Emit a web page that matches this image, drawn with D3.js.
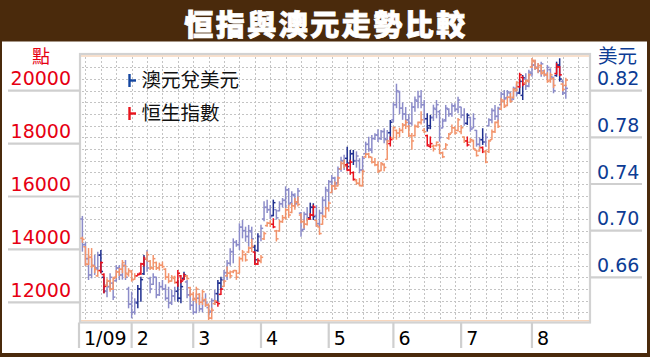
<!DOCTYPE html>
<html><head><meta charset="utf-8">
<script src="https://cdn.jsdelivr.net/npm/d3@7"></script>
<style>body{margin:0;background:#fff}svg{display:block}</style>
</head><body><svg id="c" width="650" height="357"></svg>
<script>
const title = "恒指與澳元走勢比較";
const leftUnit = "點", rightUnit = "美元";
const legendNames = ["澳元兌美元", "恒生指數"];
const hsiTicks = [12000, 14000, 16000, 18000, 20000];
const audTicks = [0.66, 0.70, 0.74, 0.78, 0.82];
const monthLabels = ["1/09", "2", "3", "4", "5", "6", "7", "8"];
const monthStarts = ["2009-01-01", "2009-02-02", "2009-03-02", "2009-04-01", "2009-05-01", "2009-06-01", "2009-07-01", "2009-08-03"];
const firstDay = "2009-01-09", lastDay = "2009-08-18";
const highlightDays = ["2009-01-19","2009-01-20","2009-02-04","2009-02-05","2009-02-06","2009-02-23","2009-02-24","2009-02-25","2009-03-12","2009-03-13","2009-03-30","2009-03-31","2009-04-07","2009-04-23","2009-04-24","2009-05-11","2009-05-12","2009-05-13","2009-05-29","2009-06-16","2009-06-17","2009-07-03","2009-07-10","2009-07-28","2009-07-29","2009-08-13","2009-08-14"];

// AUD/USD daily [open, high, low, close]
const aud = [
[.7100,.7126,.6820,.6880],[.6880,.6900,.6700,.6760],[.6760,.6791,.6577,.6620],[.6620,.6763,.6591,.6700],[.6700,.6791,.6620,.6680],[.6680,.6820,.6660,.6790],
[.6790,.6834,.6634,.6650],[.6600,.6605,.6463,.6480],[.6480,.6560,.6430,.6520],[.6520,.6634,.6491,.6600],[.6550,.6562,.6405,.6430],
[.6570,.6705,.6562,.6680],[.6680,.6705,.6577,.6620],[.6620,.6720,.6580,.6700],[.6700,.6748,.6577,.6600],[.6500,.6519,.6334,.6370],
[.6370,.6477,.6248,.6300],[.6300,.6420,.6280,.6390],[.6380,.6534,.6334,.6500],[.6500,.6605,.6391,.6580],[.6630,.6791,.6620,.6760],
[.6760,.6834,.6648,.6680],[.6590,.6605,.6463,.6500],[.6540,.6634,.6534,.6600],[.6600,.6605,.6420,.6450],[.6450,.6560,.6440,.6520],
[.6520,.6577,.6491,.6500],[.6500,.6540,.6400,.6420],[.6420,.6519,.6334,.6380],[.6380,.6491,.6362,.6440],[.6440,.6520,.6400,.6480],
[.6480,.6577,.6391,.6420],[.6420,.6577,.6377,.6520],[.6590,.6648,.6577,.6620],[.6560,.6577,.6420,.6450],[.6450,.6491,.6320,.6360],
[.6360,.6420,.6280,.6300],[.6300,.6463,.6291,.6420],[.6420,.6463,.6305,.6330],[.6330,.6430,.6300,.6400],[.6400,.6463,.6348,.6380],
[.6340,.6362,.6262,.6300],[.6310,.6420,.6300,.6400],[.6400,.6491,.6362,.6460],[.6460,.6577,.6391,.6550],[.6550,.6605,.6491,.6580],
[.6580,.6663,.6548,.6640],[.6640,.6748,.6577,.6720],[.6720,.6850,.6700,.6820],[.6820,.6934,.6720,.6900],[.6900,.6920,.6862,.6880],
[.6880,.7063,.6834,.7030],[.7030,.7091,.6934,.7000],[.7000,.7034,.6905,.6950],[.6950,.7049,.6862,.7000],[.6990,.7034,.6849,.6930],
[.6860,.6880,.6720,.6750],[.6830,.6977,.6820,.6950],[.6950,.7051,.6909,.7020],[.7100,.7252,.7080,.7200],[.7200,.7266,.7151,.7180],
[.7180,.7220,.7100,.7120],[.7130,.7266,.7123,.7240],[.7180,.7180,.7094,.7110],[.7170,.7252,.7166,.7230],[.7230,.7280,.7200,.7260],
[.7260,.7380,.7194,.7350],[.7350,.7366,.7209,.7230],[.7240,.7338,.7223,.7310],[.7300,.7320,.7200,.7230],[.7240,.7366,.7237,.7340],
[.7150,.7160,.6948,.7000],[.7010,.7163,.7006,.7140],[.7140,.7200,.7080,.7110],[.7110,.7240,.7100,.7200],[.7200,.7235,.7091,.7120],
[.7130,.7220,.7034,.7060],[.7060,.7180,.7030,.7150],[.7150,.7291,.7120,.7260],[.7260,.7377,.7177,.7350],[.7340,.7434,.7248,.7420],
[.7420,.7477,.7320,.7450],[.7450,.7463,.7377,.7400],[.7410,.7549,.7406,.7530],[.7530,.7634,.7506,.7600],[.7600,.7650,.7520,.7560],
[.7620,.7720,.7520,.7550],[.7580,.7692,.7578,.7660],[.7660,.7692,.7563,.7600],[.7600,.7680,.7540,.7640],[.7600,.7621,.7492,.7520],
[.7520,.7640,.7500,.7620],[.7660,.7763,.7649,.7740],[.7740,.7806,.7677,.7700],[.7690,.7820,.7663,.7790],[.7790,.7835,.7778,.7820],
[.7820,.7870,.7760,.7790],[.7790,.7863,.7778,.7850],[.7850,.7878,.7749,.7790],[.7780,.7863,.7735,.7840],[.7840,.7949,.7778,.7930],
[.7950,.8100,.7930,.8080],[.8080,.8260,.8050,.8200],[.8190,.8200,.8000,.8050],[.8050,.8100,.7950,.8000],[.8000,.8060,.7900,.7950],
[.7950,.8000,.7870,.7920],[.7920,.8100,.7900,.8060],[.8060,.8150,.8020,.8120],[.8110,.8200,.8050,.8150],[.8150,.8206,.8049,.8080],
[.8080,.8120,.7921,.7960],[.7960,.8007,.7849,.7880],[.7900,.7992,.7870,.7970],[.7970,.8080,.7940,.8050],[.8040,.8120,.7963,.8080],
[.8020,.8035,.7763,.7800],[.7880,.7963,.7878,.7940],[.7950,.8078,.7934,.8050],[.8040,.8049,.7977,.8000],[.8000,.8092,.7977,.8070],
[.8070,.8092,.8020,.8040],[.8040,.8149,.8007,.8120],[.8060,.8063,.7963,.7990],[.7990,.8050,.7900,.7920],[.7920,.8007,.7906,.7990],
[.7970,.7977,.7849,.7870],[.7880,.8007,.7878,.7960],[.7860,.7863,.7720,.7740],[.7740,.7800,.7700,.7780],[.7780,.7878,.7735,.7760],
[.7760,.7835,.7720,.7800],[.7900,.7963,.7892,.7950],[.7950,.8049,.7921,.8030],[.8030,.8078,.7949,.7980],[.7980,.8063,.7934,.8050],
[.8080,.8192,.8077,.8170],[.8170,.8206,.8106,.8130],[.8140,.8206,.8135,.8190],[.8180,.8192,.8106,.8120],[.8130,.8235,.8120,.8220],
[.8220,.8260,.8150,.8180],[.8180,.8300,.8170,.8280],[.8160,.8335,.8120,.8310],[.8300,.8349,.8206,.8240],[.8240,.8380,.8230,.8360],
[.8350,.8435,.8320,.8420],[.8420,.8464,.8378,.8400],[.8400,.8435,.8350,.8370],[.8370,.8449,.8320,.8430],[.8370,.8378,.8321,.8340],
[.8340,.8421,.8292,.8400],[.8380,.8392,.8292,.8320],[.8310,.8320,.8178,.8200],[.8330,.8449,.8320,.8420],[.8420,.8478,.8278,.8300],
[.8280,.8292,.8163,.8180],[.8180,.8250,.8130,.8220]
];

// Hang Seng Index daily [open, high, low, close]
const hsi = [
[14420,14480,14250,14380],[14100,14110,13380,13450],[13430,14050,13410,13700],[13700,14050,13290,13400],[13370,13380,13100,13240],[13000,13220,12970,13200],
[13200,13540,13100,13500],[13050,13100,12340,12600],[12650,12910,12590,12800],[12800,12850,12400,12500],[12500,12970,12470,12900],
[12950,13220,12910,13150],[13150,13300,13000,13250],[13250,13600,13100,13500],[13400,13410,12910,13100],[13050,13290,12970,13200],
[13150,13220,12780,12850],[12870,13100,12850,13000],[13000,13100,13000,13050],[13100,13500,13030,13450],[13450,13730,13350,13650],
[13650,13920,13540,13800],[13550,13600,13220,13300],[13300,13790,13220,13650],[13500,13540,13220,13300],[13300,13500,13200,13400],
[13400,13540,13290,13350],[13250,13290,12850,12950],[12950,13100,12720,12800],[12800,13030,12780,12950],[12900,13000,12700,12750],
[12750,13220,12590,13100],[13000,13030,12720,12800],[12850,13100,12850,13000],[13000,13030,12850,12900],[12550,12590,12210,12300],
[12300,12400,12050,12150],[12100,12590,11960,12500],[12300,12340,11900,12000],[12000,12470,11900,12400],[12100,12150,11830,11900],
[11900,11960,11330,11400],[11400,11800,11350,11700],[11950,12090,11900,12050],[12000,12020,11830,11950],[12300,12530,12280,12500],
[12600,12850,12590,12800],[13000,13350,12970,13100],[13100,13200,12900,13000],[13150,13220,13100,13200],[13200,13220,12850,12950],
[13100,13730,13100,13650],[13650,13980,13540,13900],[13800,13860,13540,13600],[13900,14110,13860,14050],[14050,14400,13900,14120],
[13900,13920,13410,13450],[13450,13670,13410,13580],[13550,13790,13480,13700],[14400,14670,14360,14600],[14900,15050,14860,14990],
[14990,15100,14850,14950],[14950,15180,14800,14850],[14700,14740,14300,14400],[14700,15120,14670,15050],[15050,15300,15000,15200],
[15200,15560,15120,15500],[15500,15690,15190,15300],[15400,15750,15370,15650],[15650,15940,15500,15800],[15800,16000,15620,15700],
[15300,15370,14990,15050],[15050,15120,14800,14950],[14950,15200,14900,15150],[15150,15370,15120,15300],[15300,15690,15240,15600],
[15100,15120,14860,14900],[14850,14860,14550,14600],[14950,15310,14930,15250],[15250,15620,15180,15550],[15550,15810,15430,15750],
[16150,16440,16130,16400],[16400,16570,16250,16300],[16400,16760,16380,16700],[17050,17330,17010,17250],[17250,17390,17070,17150],
[17200,17260,16950,17000],[17000,17390,16820,17300],[16900,16950,16600,16650],[16600,16660,16440,16500],[16500,16700,16380,16420],
[16400,17010,16380,16950],[17500,17640,17460,17600],[17600,17650,17450,17500],[17480,17500,17250,17300],[17300,17460,17140,17200],
[17200,17330,16890,16950],[16980,17300,16950,17250],[17200,17260,16950,17100],[17400,18150,17390,18100],[18000,18270,17890,18150],
[18200,18650,18150,18600],[18500,18530,18150,18400],[18400,18600,18250,18500],[18500,18780,18400,18700],[18700,18900,18550,18800],
[18650,18700,18250,18300],[18300,18400,17770,18100],[18300,18720,18270,18650],[18650,18840,18590,18800],[18800,19220,18720,18900],
[18500,18590,18400,18450],[18300,18340,17890,17950],[17900,18270,17830,18000],[17900,17960,17700,17800],[17920,18080,17890,18050],
[17950,18000,17600,17650],[17650,17700,17450,17500],[17800,18020,17770,17950],[18200,18400,18150,18350],[18400,18720,18400,18600],
[18600,18650,18340,18400],[18500,18970,18460,18900],[18450,18700,18350,18600],[18250,18270,18020,18100],[18100,18270,17890,17950],
[18050,18210,18020,18150],[18100,18150,17770,17800],[17750,17770,17510,17550],[17720,17890,17700,17850],[17850,17890,17640,17700],
[17700,17770,17260,17300],[17700,18150,17640,18100],[18150,18530,18150,18450],[18450,18840,18400,18800],[18800,18900,18590,18650],
[19300,19730,19280,19650],[19600,19660,19350,19400],[19450,19790,19410,19750],[19750,19920,19540,19600],[19750,20100,19700,20050],
[20000,20360,19980,20300],[20150,20680,20100,20600],[20500,20550,20170,20250],[20300,20420,20230,20380],[20350,20650,20300,20600],
[20900,21240,20860,21150],[21100,21180,20800,20850],[20850,21050,20680,20950],[20950,20990,20610,20650],[20700,20800,20550,20600],
[20600,20700,20300,20350],[20400,20680,20300,20600],[20450,20500,20100,20200],[20650,21050,20610,20900],[20900,20930,20550,20600],
[20250,20300,19980,20050],[20200,20490,20170,20400]
];

const svg = d3.select("#c");
const W = 650, H = 357;
const brown = "#4a2a0c";
const plot = {l: 80, t: 54, r: 590, b: 322.5};

// weekday calendar
const parse = d3.timeParse("%Y-%m-%d"), fmt = d3.timeFormat("%Y-%m-%d");
const weekdays = d3.timeDay.range(parse("2009-01-01"), parse("2009-09-01"))
  .filter(d => d.getDay() > 0 && d.getDay() < 6).map(fmt);
const wIdx = new Map(weekdays.map((d, i) => [d, i]));
const dates = weekdays.filter(d => d >= firstDay && d <= lastDay);
const hl = new Set(highlightDays);

const x = d3.scaleLinear().domain([5.55, 170.2]).range([81, 588]);
const yL = d3.scaleLinear().domain([12000, 20000]).range([302.3, 90.7]);
const yR = d3.scaleLinear().domain([0.66, 0.82]).range([277.3, 90.7]);

// background frame
svg.append("rect").attr("width", W).attr("height", H).attr("fill", brown);
svg.append("rect").attr("x", 2).attr("y", 41.5).attr("width", W - 5).attr("height", 311.5).attr("fill", "#fff");

// title
svg.append("text").attr("x", 326).attr("y", 36).attr("text-anchor", "middle")
  .attr("font-family", "'Noto Sans CJK TC','Noto Sans CJK SC',sans-serif")
  .attr("font-weight", 900).attr("font-size", 29).attr("letter-spacing", 2.5)
  .attr("fill", "#fff").attr("stroke", "#fff").attr("stroke-width", 0.8).text(title);

// grid
const grid = svg.append("g").attr("stroke", "#c4c4c4").attr("stroke-width", 1).attr("stroke-dasharray", "2,2");
const mondays = weekdays.filter(d => parse(d).getDay() === 1).map(d => wIdx.get(d)).filter(i => x(i) > plot.l + 2 && x(i) < plot.r - 2);
grid.selectAll("line.v").data(mondays).join("line")
  .attr("x1", d => Math.round(x(d)) + 0.5).attr("x2", d => Math.round(x(d)) + 0.5)
  .attr("y1", plot.t + 3).attr("y2", plot.b - 2);
const audGrid = d3.range(63, 86).map(v => v / 100).filter(v => yR(v) > plot.t + 5 && yR(v) < plot.b - 3);
grid.selectAll("line.h").data(audGrid).join("line")
  .attr("x1", plot.l + 2).attr("x2", plot.r - 2)
  .attr("y1", d => Math.round(yR(d)) + 0.5).attr("y2", d => Math.round(yR(d)) + 0.5);

// plot frame
svg.append("line").attr("x1", plot.l + 1).attr("x2", plot.r - 1).attr("y1", 56).attr("y2", 56).attr("stroke", "#f7d6bd").attr("stroke-width", 1.5);
svg.append("line").attr("x1", plot.l + 1).attr("x2", plot.r - 1).attr("y1", 320.8).attr("y2", 320.8).attr("stroke", "#f7d6bd").attr("stroke-width", 1.5);
svg.append("rect").attr("x", plot.l).attr("y", plot.t).attr("width", plot.r - plot.l).attr("height", plot.b - plot.t)
  .attr("fill", "none").attr("stroke", "#d2d2d2").attr("stroke-width", 2.2);

// axis tick lines & labels
const axisFont = "'DejaVu Sans',sans-serif";
const lAx = svg.append("g");
lAx.selectAll("line").data(hsiTicks).join("line")
  .attr("x1", 8).attr("x2", plot.l).attr("y1", d => yL(d)).attr("y2", d => yL(d))
  .attr("stroke", "#cfcfcf").attr("stroke-width", 2.2);
lAx.selectAll("text").data(hsiTicks).join("text")
  .attr("x", 71).attr("y", d => yL(d) - 5.5).attr("text-anchor", "end")
  .attr("font-family", axisFont).attr("font-size", 19).attr("fill", "#e60012").text(d => d);
const rAx = svg.append("g");
rAx.selectAll("line").data(audTicks).join("line")
  .attr("x1", plot.r).attr("x2", 642).attr("y1", d => yR(d)).attr("y2", d => yR(d))
  .attr("stroke", "#cfcfcf").attr("stroke-width", 2.2);
rAx.selectAll("text").data(audTicks).join("text")
  .attr("x", 597).attr("y", d => yR(d) - 5.5)
  .attr("font-family", axisFont).attr("font-size", 19).attr("fill", "#0d3c94").text(d => d.toFixed(2));

const cjk = "'Noto Sans CJK TC','Noto Sans CJK SC',sans-serif";
svg.append("text").attr("x", 41).attr("y", 62.5).attr("text-anchor", "middle").attr("font-family", cjk)
  .attr("font-size", 18).attr("fill", "#e60012").text(leftUnit);
svg.append("text").attr("x", 598).attr("y", 62.5).attr("font-family", cjk)
  .attr("font-size", 19.5).attr("fill", "#0d3c94").text(rightUnit);

// month separators & labels
const seps = monthStarts.map(d => Math.max(plot.l - 1, x(wIdx.get(d))));
svg.selectAll("line.sep").data(seps).join("line")
  .attr("x1", d => d).attr("x2", d => d).attr("y1", plot.b).attr("y2", 348)
  .attr("stroke", "#cfcfcf").attr("stroke-width", 2.2);
svg.selectAll("text.mon").data(monthLabels).join("text")
  .attr("x", (d, i) => seps[i] + 5).attr("y", 345)
  .attr("font-family", axisFont).attr("font-size", 19).attr("fill", "#000").text(d => d);

// OHLC bars
function drawSeries(data, y, light, dark) {
  const g = svg.append("g").attr("stroke-width", 1.5);
  const items = dates.map((d, i) => ({d, v: data[i]})).filter(e => e.v);
  const sel = g.selectAll("g").data(items).join("g")
    .attr("stroke", e => hl.has(e.d) ? dark : light);
  sel.append("line").attr("x1", e => x(wIdx.get(e.d))).attr("x2", e => x(wIdx.get(e.d)))
    .attr("y1", e => y(e.v[1])).attr("y2", e => y(e.v[2]));
  sel.append("line").attr("x1", e => x(wIdx.get(e.d)) - 2.2).attr("x2", e => x(wIdx.get(e.d)))
    .attr("y1", e => y(e.v[0])).attr("y2", e => y(e.v[0]));
  sel.append("line").attr("x1", e => x(wIdx.get(e.d))).attr("x2", e => x(wIdx.get(e.d)) + 2.2)
    .attr("y1", e => y(e.v[3])).attr("y2", e => y(e.v[3]));
}
drawSeries(aud, yR, "#8c8cc9", "#1f2f8f");
drawSeries(hsi, yL, "#f2946c", "#e8101c");

// legend
const leg = svg.append("g");
const legColors = ["#1446a0", "#e8141c"];
legendNames.forEach((name, i) => {
  const cy = 80.5 + i * 33;
  leg.append("line").attr("x1", 129.5).attr("x2", 129.5).attr("y1", cy - 6.5).attr("y2", cy + 6.5).attr("stroke", legColors[i]).attr("stroke-width", 2.4);
  leg.append("line").attr("x1", 129.5).attr("x2", 136).attr("y1", cy).attr("y2", cy).attr("stroke", legColors[i]).attr("stroke-width", 2.4);
  leg.append("text").attr("x", 141.5).attr("y", cy + 6.5).attr("font-family", cjk).attr("font-size", 19.5)
    .attr("fill", "#111").text(name);
});
</script></body></html>
